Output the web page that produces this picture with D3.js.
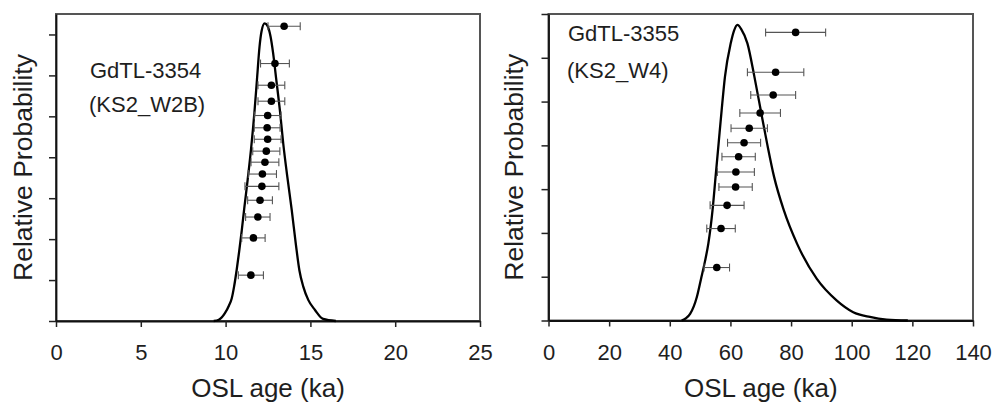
<!DOCTYPE html>
<html>
<head>
<meta charset="utf-8">
<script src="https://cdn.jsdelivr.net/npm/d3@7"></script>
<style>
body { margin: 0; background: #fff; }
text { font-family: "Liberation Sans", Arial, sans-serif; fill: #1e1e1e; }
</style>
</head>
<body>
<div id="chart"></div>
<script>
const width = 993
const height = 403

// GdTL-3354 (KS2_W2B): single aliquot ages, errors, plotted rank height
const ages3354 = [13.45, 12.91, 12.7, 12.7, 12.48, 12.45, 12.48, 12.4, 12.32, 12.17, 12.14, 12.03, 11.9, 11.64, 11.49]
const errs3354 = [0.95, 0.85, 0.79, 0.79, 0.79, 0.76, 0.79, 0.8, 0.82, 0.83, 1.0, 0.73, 0.72, 0.69, 0.74]
const rank3354 = [7.2, 6.29, 5.76, 5.37, 5.02, 4.72, 4.44, 4.15, 3.88, 3.59, 3.29, 2.95, 2.54, 2.03, 1.12]
// probability curve
const curveAge3354 = [9.3, 9.6, 9.96, 10.2, 10.36, 10.5, 10.65, 10.8, 10.95, 11.1, 11.3, 11.5, 11.7, 11.85, 12.0, 12.12, 12.3, 12.48, 12.65, 12.8, 12.97, 13.2, 13.4, 13.64, 13.9, 14.15, 14.35, 14.58, 14.88, 15.27, 15.75, 16.5]
const curveProb3354 = [0, 0.03, 0.19, 0.38, 0.55, 0.84, 1.24, 1.7, 2.2, 2.75, 3.45, 4.2, 5.1, 5.9, 6.7, 7.08, 7.27, 7.2, 6.95, 6.55, 5.96, 5.15, 4.33, 3.52, 2.71, 1.85, 1.24, 0.84, 0.51, 0.27, 0.05, 0]

// GdTL-3355 (KS2_W4)
const ages3355 = [81.5, 74.9, 74.1, 69.8, 66.2, 64.5, 62.7, 61.8, 61.7, 58.9, 56.9, 55.5]
const errs3355 = [9.9, 9.3, 7.4, 6.7, 6.0, 5.45, 5.5, 6.1, 5.5, 5.6, 4.7, 4.2]
const rank3355 = [6.58, 5.67, 5.15, 4.74, 4.39, 4.06, 3.74, 3.39, 3.05, 2.63, 2.1, 1.21]
const curveAge3355 = [43.9, 45.5, 46.7, 48.9, 50.3, 51.6, 52.7, 54.1, 55.1, 56.1, 57.1, 58.2, 60.1, 61.2, 62.3, 63.6, 65.6, 67.9, 70.0, 72.1, 74.4, 77.6, 82.0, 88.5, 95, 100.5, 106, 111.5, 118.5]
const curveProb3355 = [0, 0.06, 0.15, 0.53, 0.95, 1.35, 1.75, 2.52, 3.28, 4.04, 4.8, 5.57, 6.33, 6.62, 6.75, 6.65, 6.33, 5.57, 4.8, 4.04, 3.28, 2.52, 1.75, 0.95, 0.46, 0.19, 0.08, 0.02, 0]

const xTicks3354 = [0, 5, 10, 15, 20, 25]
const xTicks3355 = [0, 20, 40, 60, 80, 100, 120, 140]
const yTicks = [0, 1, 2, 3, 4, 5, 6, 7]

const svg = d3.select("#chart").append("svg").attr("width", width).attr("height", height)

const panels = [
    {left: 56, right: 480, top: 14, bottom: 321, xMax: 25, yMax: 7.5, xTicks: xTicks3354,
     ages: ages3354, errs: errs3354, rank: rank3354, cAge: curveAge3354, cProb: curveProb3354,
     yTitleX: 32, labels: [["GdTL-3354", 90, 78], ["(KS2_W2B)", 89, 111.5]]},
    {left: 548.5, right: 973, top: 14, bottom: 320.5, xMax: 140, yMax: 7, xTicks: xTicks3355,
     ages: ages3355, errs: errs3355, rank: rank3355, cAge: curveAge3355, cProb: curveProb3355,
     yTitleX: 523, labels: [["GdTL-3355", 568, 40.5], ["(KS2_W4)", 567, 77.5]]}
]

panels.forEach(p => {
    const g = svg.append("g")
    const x = d3.scaleLinear().domain([0, p.xMax]).range([p.left, p.right])
    const y = d3.scaleLinear().domain([0, p.yMax]).range([p.bottom, p.top])

    // frame
    g.append("rect").attr("x", p.left).attr("y", p.top)
        .attr("width", p.right - p.left).attr("height", p.bottom - p.top)
        .attr("fill", "none").attr("stroke", "#555").attr("stroke-width", 2)

    // axes
    const xAxisGroup = g.append("g").attr("transform", `translate(0,${p.bottom})`)
        .call(d3.axisBottom(x).tickValues(p.xTicks).tickSize(6).tickSizeOuter(0))
    const yAxisGroup = g.append("g").attr("transform", `translate(${p.left},0)`)
        .call(d3.axisLeft(y).tickValues(yTicks).tickSize(7).tickSizeOuter(0).tickFormat(""))
    ;[xAxisGroup, yAxisGroup].forEach(a => {
        a.select(".domain").attr("stroke", "#111").attr("stroke-width", 1.8)
        a.selectAll(".tick line").attr("stroke", "#222").attr("stroke-width", 1.5)
    })
    xAxisGroup.selectAll(".tick text")
        .attr("y", 39).attr("dy", null)
        .attr("font-size", 22).attr("font-family", null).style("fill", "#1e1e1e")

    // titles
    g.append("text").attr("x", (p.left + p.right) / 2).attr("y", 397)
        .attr("text-anchor", "middle").attr("font-size", 26).text("OSL age (ka)")
    g.append("text").attr("transform", `translate(${p.yTitleX},${(p.top + p.bottom) / 2}) rotate(-90)`)
        .attr("text-anchor", "middle").attr("font-size", 26.5).text("Relative Probability")
    p.labels.forEach(l => {
        g.append("text").attr("x", l[1]).attr("y", l[2]).attr("font-size", 22).text(l[0])
    })

    // probability curve
    const curve = p.cAge.map((a, i) => ({age: a, prob: p.cProb[i]}))
    g.append("path").datum(curve)
        .attr("d", d3.line().x(d => x(d.age)).y(d => y(d.prob)).curve(d3.curveMonotoneX))
        .attr("fill", "none").attr("stroke", "#000").attr("stroke-width", 2.3)

    // individual ages with error bars
    const pts = p.ages.map((a, i) => ({age: a, err: p.errs[i], rank: p.rank[i]}))
    const bars = g.append("g").attr("stroke", "#555").attr("stroke-width", 1.1)
    bars.selectAll("line.h").data(pts).enter().append("line").attr("class", "h")
        .attr("x1", d => x(d.age - d.err)).attr("x2", d => x(d.age + d.err))
        .attr("y1", d => y(d.rank)).attr("y2", d => y(d.rank))
    bars.selectAll("line.l").data(pts).enter().append("line").attr("class", "l")
        .attr("x1", d => x(d.age - d.err)).attr("x2", d => x(d.age - d.err))
        .attr("y1", d => y(d.rank) - 4).attr("y2", d => y(d.rank) + 4)
    bars.selectAll("line.r").data(pts).enter().append("line").attr("class", "r")
        .attr("x1", d => x(d.age + d.err)).attr("x2", d => x(d.age + d.err))
        .attr("y1", d => y(d.rank) - 4).attr("y2", d => y(d.rank) + 4)
    g.selectAll("circle").data(pts).enter().append("circle")
        .attr("cx", d => x(d.age)).attr("cy", d => y(d.rank)).attr("r", 3.8).attr("fill", "#000")
})
</script>
</body>
</html>
